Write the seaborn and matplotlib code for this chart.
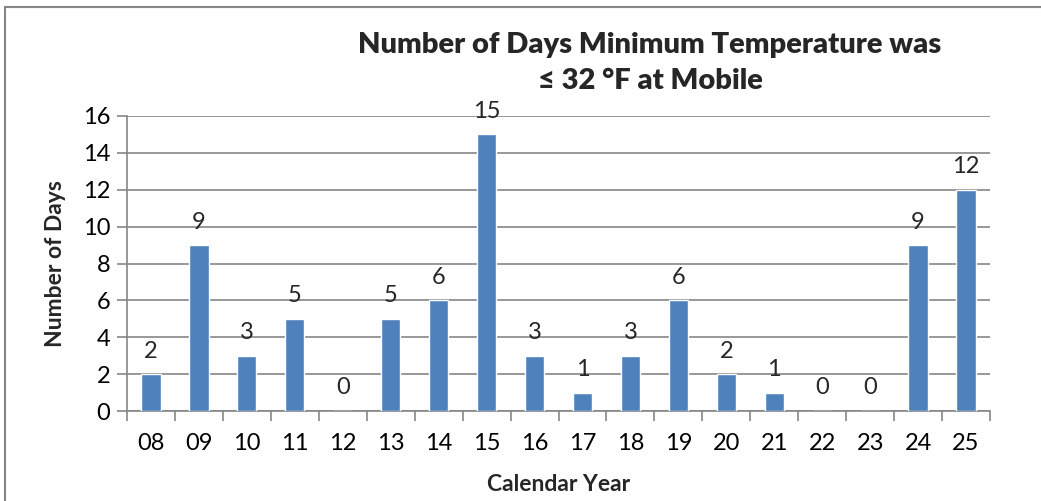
import matplotlib.pyplot as plt
import pandas as pd
import seaborn as sns
from matplotlib.patches import Rectangle

years = ["08", "09", "10", "11", "12", "13", "14", "15", "16",
         "17", "18", "19", "20", "21", "22", "23", "24", "25"]
days = [2, 9, 3, 5, 0, 5, 6, 15, 3, 1, 3, 6, 2, 1, 0, 0, 9, 12]

df = pd.DataFrame({"year": years, "days": days})

sns.set_theme(style="white")
plt.rcParams["font.family"] = ["Lato", "DejaVu Sans"]

W, H = 1041, 501
fig = plt.figure(figsize=(W / 100, H / 100), dpi=100)
# plot area in pixel terms: left 127, right 990, top 116, bottom 411
ax = fig.add_axes([127 / W, 1 - 411 / H, (990 - 127) / W, (411 - 116) / H])

grid_c = "#868686"
sns.barplot(data=df, x="year", y="days", color="#4F81BD", saturation=1,
            width=0.4, ax=ax, zorder=3)

ax.set_ylim(0, 16)
ax.set_yticks(range(0, 17, 2))
ax.set_xlim(-0.5, len(years) - 0.5)
ax.yaxis.grid(True, color=grid_c, linewidth=1.2, zorder=0)
ax.set_axisbelow(True)

for s in ["top", "right"]:
    ax.spines[s].set_visible(False)
for s in ["left", "bottom"]:
    ax.spines[s].set_color(grid_c)
    ax.spines[s].set_linewidth(1.2)

# x ticks at category boundaries, labels centred
ax.set_xticks([i - 0.5 for i in range(len(years) + 1)], minor=False)
ax.set_xticklabels([])
ax.set_xticks(range(len(years)), minor=True)
ax.set_xticklabels(years, minor=True)
ax.tick_params(axis="x", which="major", length=7, width=1.2, color=grid_c,
               direction="out", bottom=True)
ax.tick_params(axis="x", which="minor", length=0, pad=16, labelsize=17,
               labelcolor="black")
ax.tick_params(axis="y", length=7, width=1.2, color=grid_c, direction="out",
               left=True, labelsize=17, labelcolor="black", pad=5)

for c in ax.containers:
    ax.bar_label(c, labels=[str(v) for v in days], padding=9, fontsize=17)

ax.set_xlabel("Calendar Year", fontsize=16.5, fontweight="bold", labelpad=14)
ax.set_ylabel("Number of Days", fontsize=16.5, fontweight="bold", labelpad=12)

fig.text(650 / W, 1 - 45 / H, "Number of Days Minimum Temperature was",
         ha="center", va="center", fontsize=21, fontweight="heavy")
fig.text(650 / W, 1 - 81 / H, "≤ 32 °F at Mobile",
         ha="center", va="center", fontsize=21, fontweight="heavy")

fig.patches.append(Rectangle((5 / W, -0.1), 1.1, 1 - 7 / H + 0.1,
                             transform=fig.transFigure, fill=False,
                             edgecolor=grid_c, linewidth=1.5))

fig.savefig("out.png", dpi=100)
